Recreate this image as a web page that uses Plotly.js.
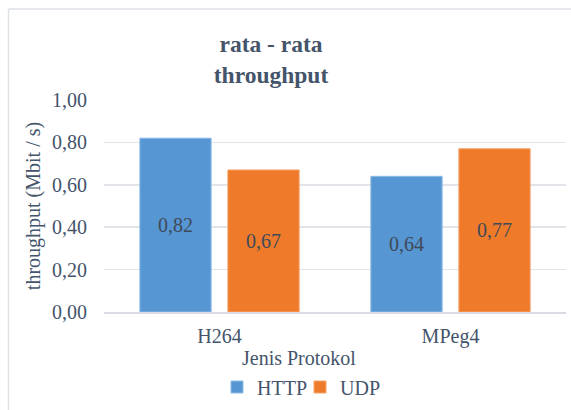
<!DOCTYPE html>
<html>
<head>
<meta charset="utf-8">
<script src="https://cdn.plot.ly/plotly-3.0.1.min.js"></script>
<style>html,body{margin:0;padding:0;background:#fff;}#chart{width:571px;height:410px;}</style>
</head>
<body>
<div id="chart"></div>
<script>
var categories = ["H264", "MPeg4"];
var httpValues = [0.82, 0.64];
var udpValues = [0.67, 0.77];
var seriesNames = ["HTTP", "UDP"];
var yTicks = [0, 0.2, 0.4, 0.6, 0.8, 1.0];

var font = "Liberation Serif";
var textColor = "#44546a";

function fmt(v){ return v.toFixed(2).replace(".", ","); }

var traces = [
  {type:"bar", name:seriesNames[0], x:categories, y:httpValues,
   marker:{color:"#5596d3", line:{color:"#8fbbe6", width:1}},
   text:httpValues.map(fmt), textposition:"inside", insidetextanchor:"middle",
   textfont:{family:font, size:20, color:"#404a58"}, hoverinfo:"none"},
  {type:"bar", name:seriesNames[1], x:categories, y:udpValues,
   marker:{color:"#ee7a2a", line:{color:"#f4a46d", width:1}},
   text:udpValues.map(fmt), textposition:"inside", insidetextanchor:"middle",
   textfont:{family:font, size:20, color:"#404a58"}, hoverinfo:"none"}
];

var layout = {
  width:571, height:410,
  margin:{l:104, r:5, t:100, b:98},
  paper_bgcolor:"#fff", plot_bgcolor:"#fff",
  separators:", ",
  font:{family:font, color:textColor, size:20},
  title:{text:"<b>rata - rata<br>throughput</b>", font:{family:font, size:23.5, color:textColor},
         xref:"container", x:271/571, xanchor:"center", yref:"container", y:1-52/410, yanchor:"top"},
  bargap:0.238, bargroupgap:0.19, barmode:"group",
  showlegend:true,
  legend:{orientation:"h", xref:"container", x:300/571, xanchor:"center", yref:"container", y:1-387/410, yanchor:"middle",
          font:{family:font, size:20, color:textColor}, itemwidth:30, entrywidth:38, entrywidthmode:"pixels", traceorder:"normal"},
  xaxis:{type:"category", showgrid:false, showline:true, linecolor:"#d9dde3", linewidth:1.5,
         ticks:"", ticklabelstandoff:5, tickfont:{family:font, size:20, color:textColor},
         title:{text:""}},
  yaxis:{range:[0,1], tickvals:yTicks, ticktext:yTicks.map(fmt), showgrid:true, gridcolor:"#e1e5ea", gridwidth:1.5,
         zeroline:false, ticks:"", ticklabelstandoff:16, tickfont:{family:font, size:20, color:textColor},
         title:{text:"throughput (Mbit / s)", font:{family:font, size:20, color:textColor}, standoff:6}},
  annotations:[
    {text:"Jenis Protokol", xref:"paper", yref:"paper", x:(299-104)/462, y:(312-358)/212, xanchor:"center", yanchor:"middle",
     showarrow:false, font:{family:font, size:20, color:textColor}}
  ],
  shapes:[
    {type:"line", xref:"paper", yref:"paper", x0:(8.5-104)/462, x1:(8.5-104)/462, y0:(312-9)/212, y1:-0.6, line:{color:"#dde1e6", width:1.5}},
    {type:"line", xref:"paper", yref:"paper", x0:(8.5-104)/462, x1:1.2, y0:(312-9)/212, y1:(312-9)/212, line:{color:"#dde1e6", width:1.5}}
  ]
};

Plotly.newPlot("chart", traces, layout, {displayModeBar:false, staticPlot:true});
</script>
</body>
</html>
